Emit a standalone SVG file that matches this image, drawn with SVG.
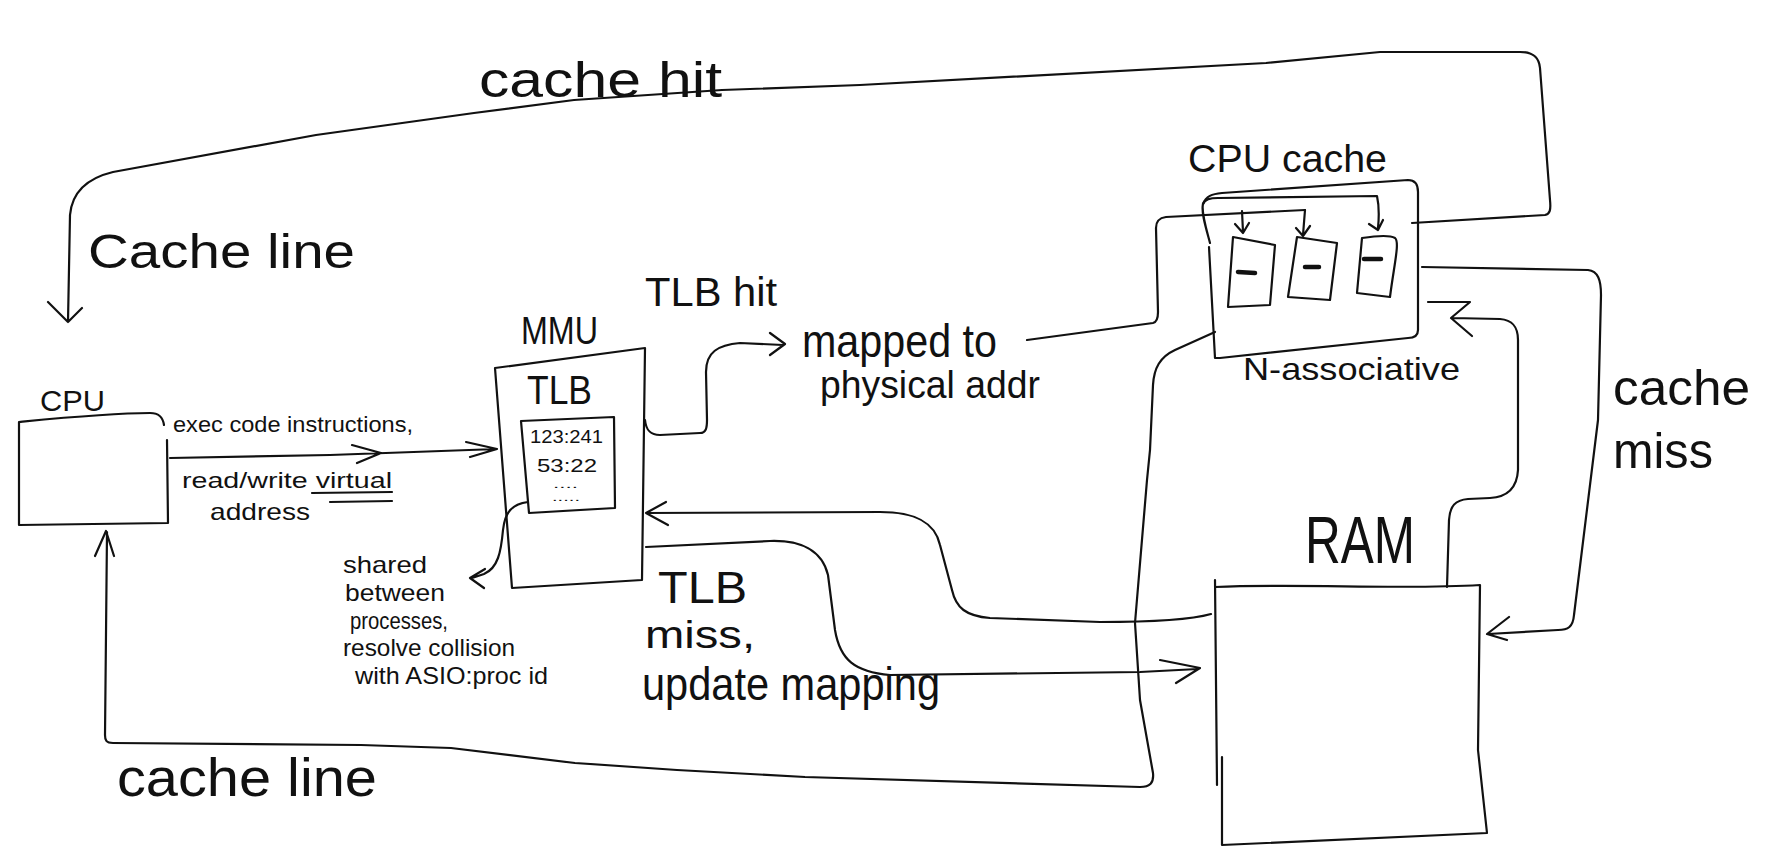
<svg xmlns="http://www.w3.org/2000/svg" width="1768" height="865" viewBox="0 0 1768 865">
<style>
.s{fill:none;stroke:#111;stroke-width:2.2;stroke-linecap:round;stroke-linejoin:round}
.b{fill:none;stroke:#111;stroke-width:4.5;stroke-linecap:round}
.t{font-family:"Liberation Sans",Arial,sans-serif;fill:#111}
</style>
<rect width="1768" height="865" fill="#fff"/>
<g id="cpu">
<path class="s" d="M19 422 L19 525 L168 523 L167 440 M19 422 C60 418 110 413 150 413 C160 413 163 418 164 425"/>
<text class="t" x="40" y="411" font-size="30" textLength="65" lengthAdjust="spacingAndGlyphs">CPU</text>
</g>
<g id="mmu">
<path class="s" d="M495 368 L645 348 L642 580 L512 588 Z"/>
<path class="s" d="M521 421 L614 417 L615 508 L529 513 Z"/>
<text class="t" x="521" y="344" font-size="38" textLength="77" lengthAdjust="spacingAndGlyphs">MMU</text>
<text class="t" x="527" y="404" font-size="40" textLength="65" lengthAdjust="spacingAndGlyphs">TLB</text>
<text class="t" x="530" y="443" font-size="19" textLength="73" lengthAdjust="spacingAndGlyphs">123:241</text>
<text class="t" x="537" y="472" font-size="19" textLength="60" lengthAdjust="spacingAndGlyphs">53:22</text>
<text class="t" x="553" y="488" font-size="10" textLength="25" lengthAdjust="spacingAndGlyphs">....</text>
<text class="t" x="552" y="501" font-size="10" textLength="28" lengthAdjust="spacingAndGlyphs">.....</text>
</g>
<g id="cpu-cache">
<path class="s" d="M1203 204 C1206 196 1212 194 1222 193 L1408 180 C1415 180 1418 184 1418 192 L1418 330 C1418 336 1414 338 1408 338 L1220 358 L1215 358 L1209 247"/>
<path class="s" d="M1233 237 L1275 245 L1270 305 L1228 307 Z"/>
<path class="s" d="M1297 237 L1337 243 L1330 300 L1288 297 Z"/>
<path class="s" d="M1362 238 C1375 236 1390 235 1395 238 C1400 242 1394 265 1390 297 L1357 293 Z"/>
<path class="b" d="M1238 272 L1255 273 M1305 267 L1319 267 M1364 259 L1381 259"/>
<text class="t" x="1188" y="172" font-size="38" textLength="199" lengthAdjust="spacingAndGlyphs">CPU cache</text>
<text class="t" x="1243" y="380" font-size="32" textLength="217" lengthAdjust="spacingAndGlyphs">N-associative</text>
</g>
<g id="ram">
<path class="s" d="M1215 580 L1217 785 M1215 587 C1300 583 1400 590 1480 585 L1478 750 L1487 833 L1222 845 L1222 757"/>
<text class="t" x="1305" y="563" font-size="66" textLength="110" lengthAdjust="spacingAndGlyphs">RAM</text>
</g>
<g id="connectors">
<path class="s" d="M170 458 L330 455 L497 449 M352 445 L381 453 L357 463 M466 442 L497 449 L470 457"/>
<path class="s" d="M312 493 L392 492 M330 502 L392 501"/>
<path class="s" d="M645 420 C646 430 650 435 660 435 L700 433 C706 433 707 428 707 420 L706 372 C706 352 718 345 740 343 L783 345 M770 333 L785 344 L770 355"/>
<path class="s" d="M1027 340 L1153 323 C1157 322 1158 318 1158 312 L1156 228 C1156 221 1159 218 1166 217 L1305 210"/>
<path class="s" d="M1242 211 L1243 232 M1235 224 L1243 233 L1249 223 M1305 210 L1303 235 M1296 228 L1303 236 L1310 226"/>
<path class="s" d="M1210 243 C1206 228 1201 212 1203 204 C1205 199 1210 198 1218 198 L1377 196 C1379 205 1379 218 1378 228 M1369 224 L1378 230 L1383 220"/>
<path class="s" d="M1412 223 L1545 215 C1550 214 1551 210 1550 200 L1540 68 C1539 57 1533 52 1520 52 L1380 52 L1266 63 L860 85 L722 90 L574 100 L474 113 L316 135 L113 172 C88 178 72 192 70 215 L68 322 M48 302 L68 322 L82 308"/>
<path class="s" d="M1422 267 L1588 270 C1598 271 1601 280 1601 295 L1598 420 L1574 615 C1573 627 1568 630 1558 630 L1488 634 M1509 617 L1487 634 L1507 640"/>
<path class="s" d="M1447 587 L1449 520 C1450 506 1455 500 1468 499 L1490 498 C1508 497 1517 488 1518 470 L1518 340 C1518 326 1512 320 1500 319 L1452 318 M1428 302 L1470 302 L1451 318 L1472 336"/>
<path class="s" d="M646 513 L880 512 C915 512 935 522 940 545 L952 590 C956 608 966 616 990 618 L1100 622 C1150 622 1190 620 1211 614 M666 502 L646 513 L668 525"/>
<path class="s" d="M646 547 L770 541 C800 540 822 550 828 575 L835 630 C840 660 855 672 890 675 L1140 672 L1198 669 M1160 660 L1200 668 L1176 683"/>
<path class="s" d="M528 502 C512 504 505 512 503 530 C501 552 498 568 484 574 L472 578 M485 569 L470 578 L484 588"/>
<path class="s" d="M1215 332 L1175 350 C1160 357 1154 368 1153 385 L1150 450 L1147 480 L1135 623 L1140 700 L1153 773 C1154 783 1150 787 1140 787 L805 777 L677 770 L575 763 L451 748 L361 745 L113 743 C106 743 105 740 105 735 L107 532 M95 556 L106 531 L114 556"/>
</g>
<g id="labels">
<text class="t" x="479" y="97" font-size="50" textLength="243" lengthAdjust="spacingAndGlyphs">cache hit</text>
<text class="t" x="88" y="268" font-size="48" textLength="267" lengthAdjust="spacingAndGlyphs">Cache line</text>
<text class="t" x="173" y="432" font-size="22" textLength="240" lengthAdjust="spacingAndGlyphs">exec code instructions,</text>
<text class="t" x="182" y="488" font-size="22" textLength="210" lengthAdjust="spacingAndGlyphs">read/write virtual</text>
<text class="t" x="210" y="520" font-size="24" textLength="100" lengthAdjust="spacingAndGlyphs">address</text>
<text class="t" x="343" y="573" font-size="24" textLength="84" lengthAdjust="spacingAndGlyphs">shared</text>
<text class="t" x="345" y="601" font-size="24" textLength="100" lengthAdjust="spacingAndGlyphs">between</text>
<text class="t" x="350" y="629" font-size="24" textLength="98" lengthAdjust="spacingAndGlyphs">processes,</text>
<text class="t" x="343" y="656" font-size="24" textLength="172" lengthAdjust="spacingAndGlyphs">resolve collision</text>
<text class="t" x="355" y="684" font-size="24" textLength="193" lengthAdjust="spacingAndGlyphs">with ASIO:proc id</text>
<text class="t" x="645" y="306" font-size="40" textLength="132" lengthAdjust="spacingAndGlyphs">TLB hit</text>
<text class="t" x="802" y="357" font-size="46" textLength="195" lengthAdjust="spacingAndGlyphs">mapped to</text>
<text class="t" x="820" y="398" font-size="38" textLength="220" lengthAdjust="spacingAndGlyphs">physical addr</text>
<text class="t" x="1613" y="405" font-size="50" textLength="137" lengthAdjust="spacingAndGlyphs">cache</text>
<text class="t" x="1613" y="468" font-size="50" textLength="100" lengthAdjust="spacingAndGlyphs">miss</text>
<text class="t" x="658" y="603" font-size="44" textLength="89" lengthAdjust="spacingAndGlyphs">TLB</text>
<text class="t" x="645" y="648" font-size="38" textLength="110" lengthAdjust="spacingAndGlyphs">miss,</text>
<text class="t" x="642" y="700" font-size="46" textLength="298" lengthAdjust="spacingAndGlyphs">update mapping</text>
<text class="t" x="117" y="796" font-size="54" textLength="260" lengthAdjust="spacingAndGlyphs">cache line</text>
</g>
</svg>
